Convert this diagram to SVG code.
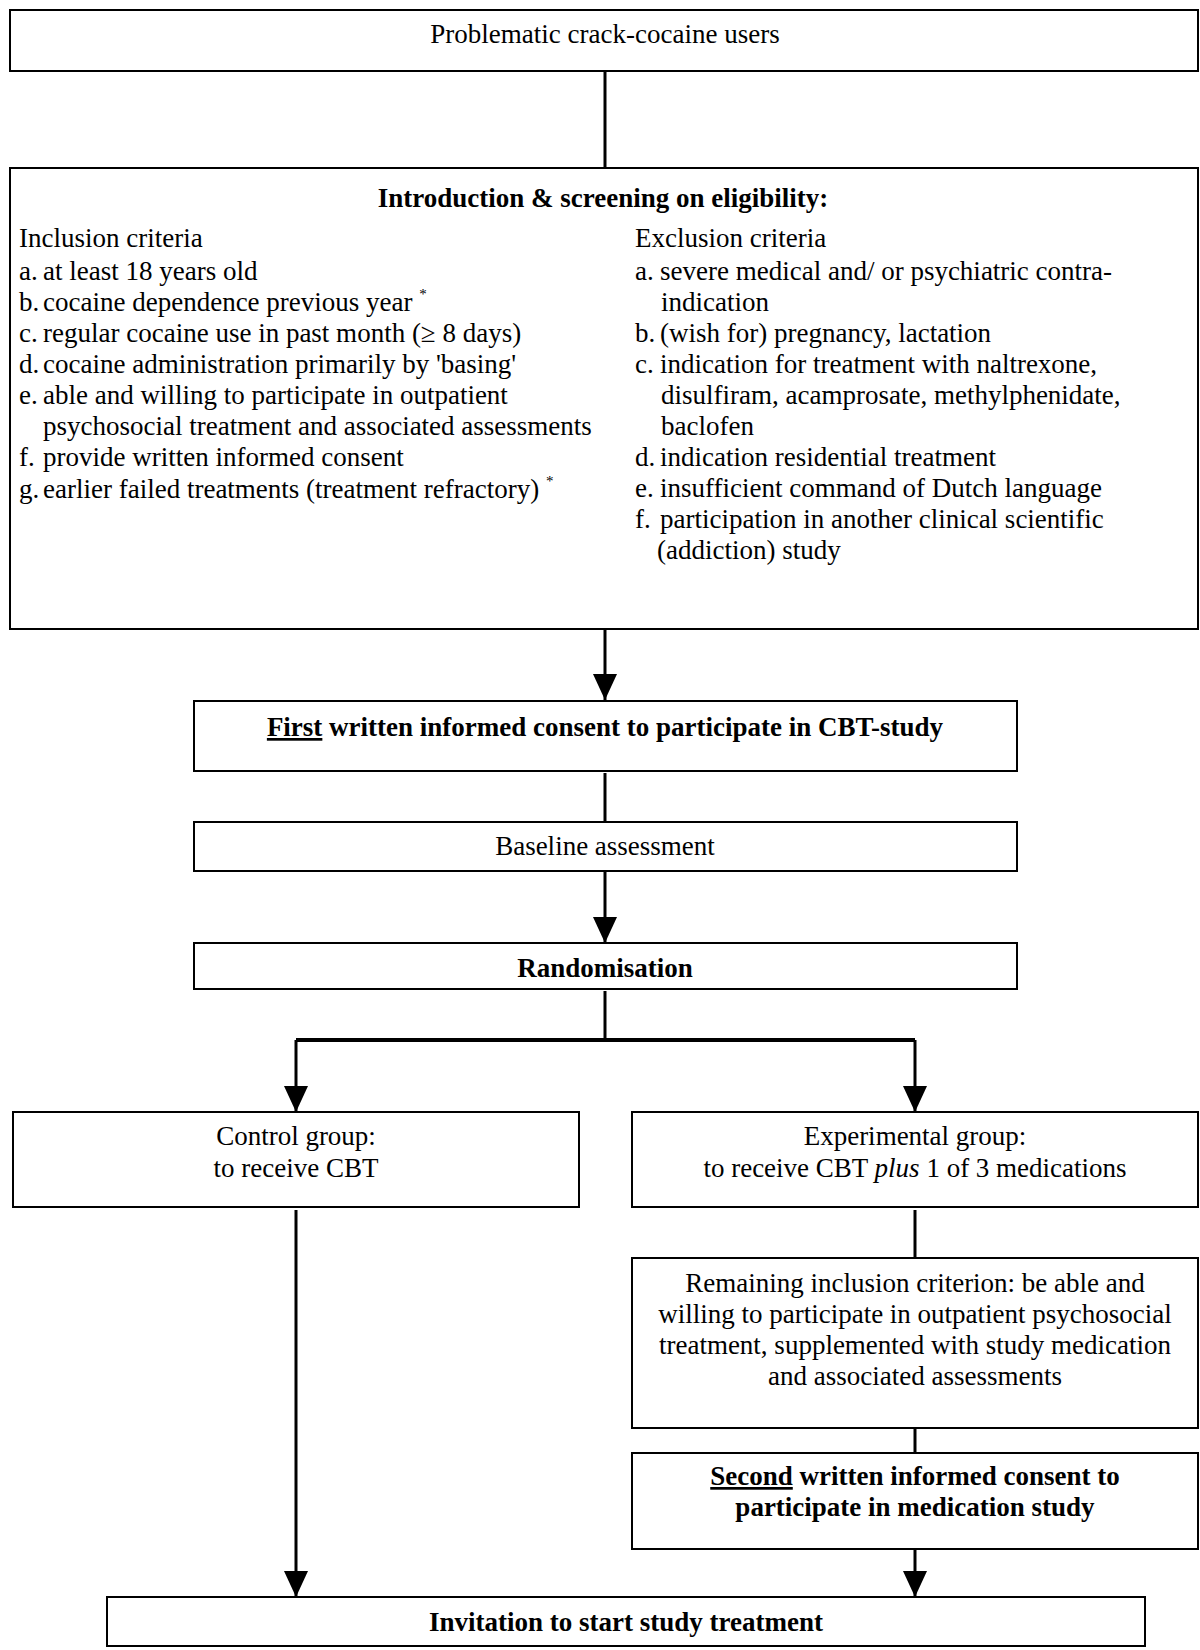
<svg xmlns="http://www.w3.org/2000/svg" width="1200" height="1650" viewBox="0 0 1200 1650">
<style>
.box{fill:#fff;stroke:#000;stroke-width:2}
.t{font-family:"Liberation Serif","Times New Roman",serif;font-size:27px;fill:#000}
.c{text-anchor:middle}
.b{font-weight:bold}
.con{fill:none;stroke:#000;stroke-width:3}
.sup{font-size:15px}
</style>
<defs>
<marker id="arr" markerUnits="userSpaceOnUse" markerWidth="26" markerHeight="24" viewBox="0 0 26 24" refX="26" refY="12" orient="auto">
<path d="M0,0 L26,12 L0,24 Z" fill="#000"/>
</marker>
</defs>
<rect width="1200" height="1650" fill="#fff"/>
<g id="connectors">
<line class="con" x1="605" y1="71" x2="605" y2="168"/>
<line class="con" x1="605" y1="629" x2="605" y2="700" marker-end="url(#arr)"/>
<line class="con" x1="605" y1="773" x2="605" y2="822"/>
<line class="con" x1="605" y1="871" x2="605" y2="943" marker-end="url(#arr)"/>
<line class="con" x1="605" y1="991" x2="605" y2="1040"/>
<line x1="296" y1="1040" x2="915" y2="1040" stroke="#000" stroke-width="4"/>
<line class="con" x1="296" y1="1040" x2="296" y2="1112" marker-end="url(#arr)"/>
<line class="con" x1="915" y1="1040" x2="915" y2="1112" marker-end="url(#arr)"/>
<line class="con" x1="296" y1="1210" x2="296" y2="1597" marker-end="url(#arr)"/>
<line class="con" x1="915" y1="1210" x2="915" y2="1258"/>
<line class="con" x1="915" y1="1428" x2="915" y2="1453"/>
<line class="con" x1="915" y1="1549" x2="915" y2="1597" marker-end="url(#arr)"/>
</g>
<g id="users">
<rect class="box" x="10" y="10" width="1188" height="61"/>
<text class="t c" x="605" y="43">Problematic crack-cocaine users</text>
</g>
<g id="screening">
<rect class="box" x="10" y="168" width="1188" height="461"/>
<text class="t c b" x="603" y="207">Introduction &amp; screening on eligibility:</text>
<text class="t" x="19" y="247">Inclusion criteria</text>
<text class="t"><tspan x="19" y="280">a.</tspan><tspan x="43" y="280">at least 18 years old</tspan></text>
<text class="t"><tspan x="19" y="311">b.</tspan><tspan x="43" y="311">cocaine dependence previous year </tspan><tspan class="sup" dy="-12">*</tspan></text>
<text class="t"><tspan x="19" y="342">c.</tspan><tspan x="43" y="342">regular cocaine use in past month (≥ 8 days)</tspan></text>
<text class="t"><tspan x="19" y="373">d.</tspan><tspan x="43" y="373">cocaine administration primarily by 'basing'</tspan></text>
<text class="t"><tspan x="19" y="404">e.</tspan><tspan x="43" y="404">able and willing to participate in outpatient</tspan></text>
<text class="t" x="43" y="435">psychosocial treatment and associated assessments</text>
<text class="t"><tspan x="19" y="466">f.</tspan><tspan x="43" y="466">provide written informed consent</tspan></text>
<text class="t"><tspan x="19" y="498">g.</tspan><tspan x="43" y="498">earlier failed treatments (treatment refractory) </tspan><tspan class="sup" dy="-12">*</tspan></text>
<text class="t" x="635" y="247">Exclusion criteria</text>
<text class="t"><tspan x="635" y="280">a.</tspan><tspan x="660" y="280">severe medical and/ or psychiatric contra-</tspan></text>
<text class="t" x="661" y="311">indication</text>
<text class="t"><tspan x="635" y="342">b.</tspan><tspan x="660" y="342">(wish for) pregnancy, lactation</tspan></text>
<text class="t"><tspan x="635" y="373">c.</tspan><tspan x="660" y="373">indication for treatment with naltrexone,</tspan></text>
<text class="t" x="661" y="404">disulfiram, acamprosate, methylphenidate,</text>
<text class="t" x="661" y="435">baclofen</text>
<text class="t"><tspan x="635" y="466">d.</tspan><tspan x="660" y="466">indication residential treatment</tspan></text>
<text class="t"><tspan x="635" y="497">e.</tspan><tspan x="660" y="497">insufficient command of Dutch language</tspan></text>
<text class="t"><tspan x="635" y="528">f.</tspan><tspan x="660" y="528">participation in another clinical scientific</tspan></text>
<text class="t" x="657" y="559">(addiction) study</text>
</g>
<g id="consent1">
<rect class="box" x="194" y="701" width="823" height="70"/>
<text class="t c b" x="605" y="736"><tspan text-decoration="underline">First</tspan> written informed consent to participate in CBT-study</text>
</g>
<g id="baseline">
<rect class="box" x="194" y="822" width="823" height="49"/>
<text class="t c" x="605" y="855">Baseline assessment</text>
</g>
<g id="randomisation">
<rect class="box" x="194" y="943" width="823" height="46"/>
<text class="t c b" x="605" y="977">Randomisation</text>
</g>
<g id="control">
<rect class="box" x="13" y="1112" width="566" height="95"/>
<text class="t c" x="296" y="1145">Control group:</text>
<text class="t c" x="296" y="1177">to receive CBT</text>
</g>
<g id="experimental">
<rect class="box" x="632" y="1112" width="566" height="95"/>
<text class="t c" x="915" y="1145">Experimental group:</text>
<text class="t c" x="915" y="1177">to receive CBT <tspan font-style="italic">plus</tspan> 1 of 3 medications</text>
</g>
<g id="remaining">
<rect class="box" x="632" y="1258" width="566" height="170"/>
<text class="t c" x="915" y="1292">Remaining inclusion criterion: be able and</text>
<text class="t c" x="915" y="1323">willing to participate in outpatient psychosocial</text>
<text class="t c" x="915" y="1354">treatment, supplemented with study medication</text>
<text class="t c" x="915" y="1385">and associated assessments</text>
</g>
<g id="consent2">
<rect class="box" x="632" y="1453" width="566" height="96"/>
<text class="t c b" x="915" y="1485"><tspan text-decoration="underline">Second</tspan> written informed consent to</text>
<text class="t c b" x="915" y="1516">participate in medication study</text>
</g>
<g id="invitation">
<rect class="box" x="107" y="1597" width="1038" height="49"/>
<text class="t c b" x="626" y="1631">Invitation to start study treatment</text>
</g>
</svg>
